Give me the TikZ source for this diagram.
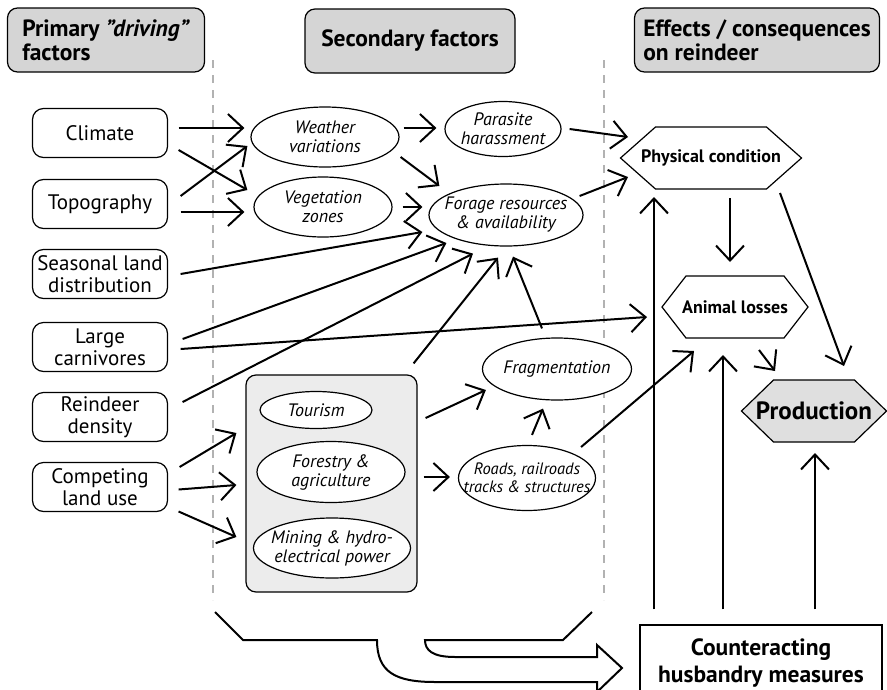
\documentclass[tikz,border=0pt]{standalone}
\usepackage{fontspec}
\setmainfont{PT Sans}
\usetikzlibrary{shapes.geometric}
\usetikzlibrary{arrows.meta}
\tikzset{
    headbox/.style = {rectangle, rounded corners=10pt, line width=1.2pt, draw=black, fill=gray!33, align=left, inner sep=0pt, minimum height=64pt, font=\fontsize{23.5}{24}\selectfont\bfseries},
    factor/.style = {rectangle, rounded corners=11pt, line width=1.2pt, draw=black, fill=white, minimum width=135pt, minimum height=49pt, align=center, inner sep=0pt, font=\fontsize{21}{22}\selectfont},
    ellnode/.style = {ellipse, line width=1.2pt, draw=black, fill=white, inner sep=-60pt, align=center, font=\fontsize{18}{19}\selectfont\itshape},
    hexnode/.style 2 args = {rectangle, inner sep=0pt, align=center, font=\fontsize{18}{19}\selectfont\bfseries,
        path picture={\filldraw[line width=1.2pt, fill=#2]
          ([xshift=1pt]path picture bounding box.west) -- ([xshift=#1pt, yshift=-1pt]path picture bounding box.north west)
          -- ([xshift=-#1pt, yshift=-1pt]path picture bounding box.north east) -- ([xshift=-1pt]path picture bounding box.east)
          -- ([xshift=-#1pt, yshift=1pt]path picture bounding box.south east) -- ([xshift=#1pt, yshift=1pt]path picture bounding box.south west) -- cycle;}},
    groupbox/.style = {rectangle, rounded corners=10pt, line width=1.2pt, draw=black, fill=gray!15},
    cntbox/.style = {rectangle, line width=1.2pt, draw=black, fill=white, align=center, font=\fontsize{23.5}{27}\selectfont\bfseries},
    edgen/.style = {-{Straight Barb[length=15pt,width=28pt]}, line width=2pt},
    divider/.style = {gray!60, line width=1.5pt, dash pattern=on 8pt off 7pt}, % column borders
    bigarrow/.style = {line width=2pt, line join=miter}
}

\begin{document}
\begin{tikzpicture}[x=1pt, y=-1pt]
  \useasboundingbox (0,0) rectangle (887,689);

  \draw[divider] (213,60) -- (213,600);
  \draw[divider] (604,60) -- (604,600);

  % column heads
  \node[headbox, minimum width=197pt] (hprim) at (106,40) {Primary \textit{"driving"}\\factors};
  \node[headbox, minimum width=210pt, align=center] (hsec) at (410,41) {Secondary factors};
  \node[headbox, minimum width=245pt] (heff) at (757,40) {Effects / consequences\\on reindeer};

  % primary factors
  \node[factor] (clim) at (100,133) {Climate};
  \node[factor] (topo) at (100,204) {Topography};
  \node[factor] (seas) at (100,274) {Seasonal land\\distribution};
  \node[factor] (carn) at (100,347) {Large\\carnivores};
  \node[factor] (dens) at (100,417) {Reindeer\\density};
  \node[factor] (comp) at (100,487) {Competing\\land use};

  % secondary factors
  \node[groupbox, minimum width=171pt, minimum height=217pt] (grp) at (331.5,483.5) {};
  \node[ellnode, minimum width=148pt, minimum height=60pt] (wea) at (325,137) {Weather\\variations};
  \node[ellnode, minimum width=138pt, minimum height=60pt] (veg) at (323,207) {Vegetation\\zones};
  \node[ellnode, minimum width=116pt, minimum height=55pt] (para) at (503,129) {Parasite\\harassment};
  \node[ellnode, minimum width=154pt, minimum height=62pt] (forage) at (506,215) {Forage resources\\\& availability};
  \node[ellnode, minimum width=149pt, minimum height=62pt] (frag) at (557,369) {Fragmentation};
  \node[ellnode, minimum width=137pt, minimum height=65pt, font=\fontsize{16.5}{18}\selectfont\itshape] (road) at (527,478) {Roads, railroads\\tracks \& structures};
  \node[ellnode, minimum width=112pt, minimum height=37pt] (tour) at (316,410) {Tourism};
  \node[ellnode, minimum width=148pt, minimum height=61pt] (fore) at (331,472) {Forestry \&\\agriculture};
  \node[ellnode, minimum width=157pt, minimum height=60pt] (mine) at (332,548) {Mining \& hydro-\\electrical power};

  % effects
  \node[hexnode={36}{white}, minimum width=183pt, minimum height=64pt] (phys) at (711,158) {Physical condition};
  \node[hexnode={25}{white}, minimum width=148pt, minimum height=64pt] (loss) at (735,307) {Animal losses};
  \node[hexnode={33}{gray!25}, minimum width=147pt, minimum height=64pt, font=\fontsize{25}{26}\selectfont\bfseries] (prod) at (814,411) {Production};
  \node[cntbox, minimum width=242pt, minimum height=76pt] (count) at (761,663) {Counteracting\\husbandry measures};

  \draw[edgen] ([shift={(10.5,-5)}]clim.east) -- ([shift={(-6,-9)}]wea.west);
  \draw[edgen] ([shift={(10.5,17)}]clim.east) -- ([shift={(-6,-17)}]veg.west);
  \draw[edgen] ([shift={(12.5,-8)}]topo.east) -- ([shift={(-3,9)}]wea.west);
  \draw[edgen] ([shift={(12.5,8)}]topo.east) -- ([shift={(-9,5)}]veg.west);
  \draw[edgen] ([shift={(4,-9)}]wea.east) -- ([shift={(-8,-1)}]para.west);
  \draw[edgen] ([shift={(1,20)}]wea.east) -- ([shift={(11,-29)}]forage.west);
  \draw[edgen] ([shift={(10,0)}]veg.east) -- ([shift={(-6,-8)}]forage.west);
  \draw[edgen] ([shift={(12.5,0)}]seas.east) -- ([shift={(-6,17)}]forage.west);
  \draw[edgen] ([shift={(14.5,-8)}]carn.east) -- ([shift={(18,28)}]forage.west);
  \draw[edgen] ([shift={(14.5,-15)}]dens.east) -- ([shift={(-33,7)}]forage.south);
  \draw[edgen] ([shift={(12.5,2)}]carn.east) -- ([shift={(-88,10)}]loss.center);
  \draw[edgen] ([shift={(-4,-11)}]grp.north east) -- ([shift={(-8,11)}]forage.south);
  \draw[edgen] ([shift={(-15,-9)}]frag.north) -- ([shift={(7,10)}]forage.south);
  \draw[edgen] ([shift={(8,0)}]para.east) -- ([shift={(-83,-21)}]phys.center);
  \draw[edgen] ([shift={(-4,-19)}]forage.east) -- ([shift={(-83,19)}]phys.center);
  \draw[edgen] ([shift={(19,40)}]phys.center) -- ([shift={(-5,-45)}]loss.center);
  \draw[edgen] ([shift={(69,35)}]phys.center) -- ([shift={(30,-45)}]prod.center);
  \draw[edgen] ([shift={(24,43)}]loss.center) -- ([shift={(-39,-40)}]prod.center);
  \draw[edgen] ([shift={(-15,-31)}]road.east) -- ([shift={(-41,44)}]loss.center);
  \draw[edgen] ([shift={(5,-10)}]road.north) -- ([shift={(-14,8)}]frag.south);
  \draw[edgen] ([shift={(8,-65.5)}]grp.east) -- ([shift={(4,21)}]frag.west);
  \draw[edgen] ([shift={(18,5)}]fore.east) -- ([shift={(-8,-1)}]road.west);
  \draw[edgen] ([shift={(11.5,-20)}]comp.east) -- ([shift={(-9,-50.5)}]grp.west);
  \draw[edgen] ([shift={(10.5,2.5)}]comp.east) -- ([shift={(-9,1.5)}]grp.west);
  \draw[edgen] ([shift={(10.5,24.5)}]comp.east) -- ([shift={(-9,53.5)}]grp.west);
  \draw[edgen] ([shift={(-107,-15)}]count.north) -- ([shift={(-57,39)}]phys.center);
  \draw[edgen] ([shift={(-38,-15)}]count.north) -- ([shift={(-12,48)}]loss.center);
  \draw[edgen] ([shift={(54,-15)}]count.north) -- ([shift={(1,42)}]prod.center);

  % hollow arrow at the bottom
  \draw[bigarrow] (215,612) -- (243,640) -- (377,640) .. controls (377,672) and (395,682) .. (435,682) -- (597,682) -- (597,692) -- (622,668) -- (597,645) -- (597,657) -- (455,657) .. controls (432,657) and (425,650) .. (425,640) -- (563,640) -- (592,612);
\end{tikzpicture}
\end{document}
